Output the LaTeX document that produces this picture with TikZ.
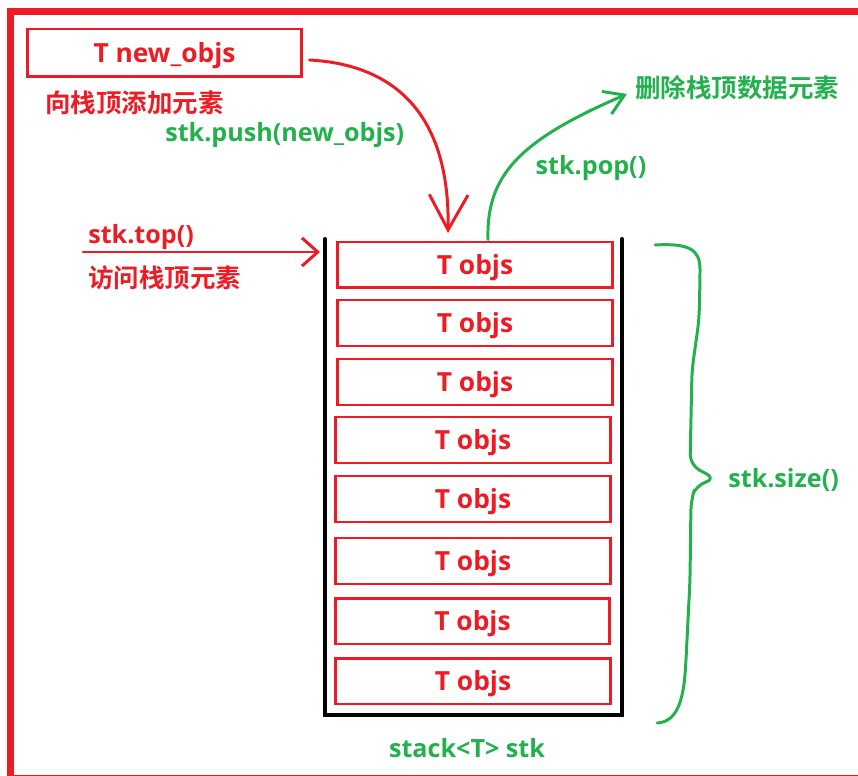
\documentclass[tikz,border=0pt]{standalone}
\usepackage{fontspec}
\setmainfont{Open Sans}
\newfontfamily\cjk{Noto Sans CJK SC}[BoldFont={Noto Sans CJK SC Bold}]
\usetikzlibrary{arrows.meta}
\definecolor{pred}{RGB}{237,28,36}
\definecolor{pgreen}{RGB}{34,177,76}

\begin{document}
\begin{tikzpicture}[x=0.02cm,y=-0.02cm,line join=round,line cap=round,
    font=\fontsize{14.3}{17}\selectfont\bfseries,
    objbox/.style={draw=pred,text=pred,line width=1.7pt,line join=miter,
      font=\fontsize{15}{18}\selectfont\bfseries,
      minimum width=5.5cm,minimum height=0.92cm,inner sep=0pt,text depth=0.5pt},
    lbl/.style={inner sep=0pt},
    cjklbl/.style={lbl,font=\cjk\fontsize{14.5}{17}\selectfont\bfseries},
    stroke/.style={line width=1.7pt}]
  \useasboundingbox (0,0) rectangle (858,776);
  \begin{scope}
    \clip (0,0) rectangle (858,776);
    \draw[pred,line width=4pt,line join=miter] (10.5,11.5) rectangle (900,779);
  \end{scope}

  % the element waiting to be pushed
  \node[objbox,minimum height=0.96cm] (newobj) at (164.5,53) {T new\_objs};
  \node[cjklbl,text=pred,anchor=west] (pushcn) at (45,103) {向栈顶添加元素};
  \node[lbl,text=pgreen,anchor=west] (pushfn) at (165,135) {stk.push(new\_objs)};

  % the stack itself
  \draw[line width=2.3pt,line join=miter] (325,239) -- (325,715) -- (622,715) -- (622,239);
  \foreach \x/\y [count=\i] in {475/265,475/323,475/382,473/440,473/499,473/561,472.5/621,473/681}
    \node[objbox] (obj\i) at (\x,\y) {T objs};
  \node[lbl,text=pgreen] (stkname) at (467,748) {stack<T> stk};

  % top()
  \node[lbl,text=pred,anchor=west] (topfn) at (88,237) {stk.top()};
  \node[cjklbl,text=pred,anchor=west] (topcn) at (88,278) {访问栈顶元素};
  \coordinate (topin) at (83,252);
  \coordinate (topend) at (320,252);
  \draw[pred,stroke,-{Straight Barb[length=9pt,width=16pt]}] (topin) -- (topend);

  % push()
  \coordinate (pushend) at (448,233);
  \draw[pred,stroke,-{Straight Barb[length=20pt,width=22pt]}]
    ([shift={(6,7)}]newobj.east) .. controls (400,65) and (450,120) .. (pushend);

  % pop()
  \node[cjklbl,text=pgreen,anchor=west] (popcn) at (635,88) {删除栈顶数据元素};
  \node[lbl,text=pgreen] (popfn) at (591,168) {stk.pop()};
  \draw[pgreen,stroke,-{Straight Barb[length=11pt,width=14pt]}]
    ([shift={(13,-1)}]obj1.north) .. controls (486,175) and (520,140) .. ([shift={(-8,6)}]popcn.west);

  % size()
  \node[lbl,text=pgreen,anchor=west] (sizefn) at (728,480) {stk.size()};
  \draw[pgreen,stroke,rounded corners=6pt] (655,245) .. controls (690,243) and (700,250) .. (700,280)
    -- (699,320) -- (692,370) -- (690,465) -- (716,479) -- (696,485) -- (691,500)
    -- (690,580) -- (686,660) .. controls (683,705) and (675,722) .. (657,723);
\end{tikzpicture}
\end{document}
